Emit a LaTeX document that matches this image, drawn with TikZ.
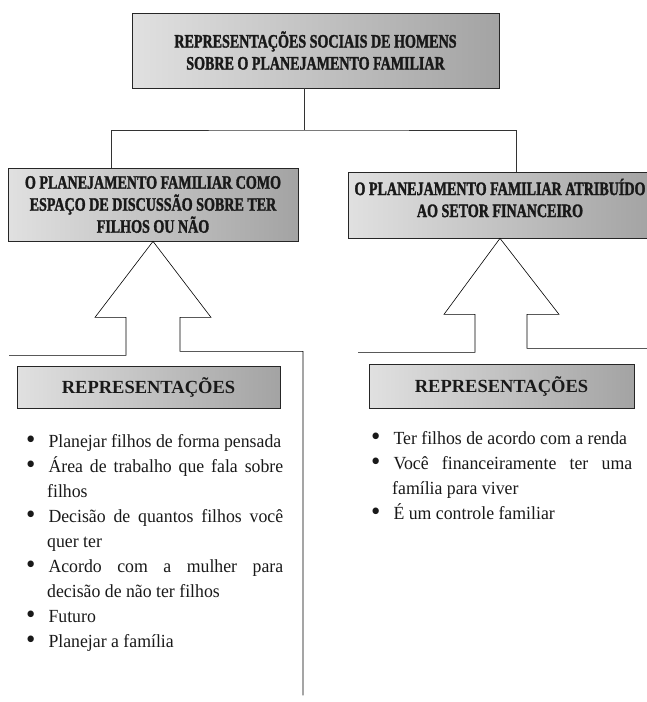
\documentclass[tikz,border=0pt]{standalone}
\usepackage{fontspec}
\usepackage{graphicx}
\setmainfont{Liberation Serif}
\newfontfamily\headfont{Liberation Serif Bold}[FakeStretch=0.74, FakeBold=1.6]
\newfontfamily\listfont{Liberation Serif}[FakeStretch=0.96]
\usetikzlibrary{shadows}

\newcommand\repdot{\raisebox{-0.08em}{\scalebox{1.5}{\textbullet}}}
\newenvironment{replist}{\hyphenpenalty=10000 \exhyphenpenalty=10000 \tolerance=10000
  \begin{list}{\repdot}{\setlength\leftmargin{21pt}\setlength\labelsep{13pt}%
  \setlength\labelwidth{8pt}\setlength\itemsep{0pt}\setlength\parsep{0pt}%
  \setlength\topsep{0pt}\setlength\partopsep{0pt}}}{\end{list}}

\tikzset{
  headbox/.style={draw=black!85, line width=0.7pt, left color=black!12, right color=black!36,
    drop shadow={shadow xshift=1.3pt, shadow yshift=-1.3pt, opacity=1, fill=black!80},
    align=center, inner sep=0pt, text=black!90,
    font=\headfont\fontsize{19}{22}\selectfont},
  headtext/.style={align=center, inner sep=0pt, text=black!90,
    font=\headfont\fontsize{19}{22}\selectfont},
  repbox/.style={headbox, font=\bfseries\fontsize{18.5}{22}\selectfont},
  conn/.style={draw=black!80, line width=0.9pt},
  arrowline/.style={draw=black, line width=0.6pt, line join=miter},
  replines/.style={anchor=north west, inner sep=0pt, align=justify, text=black!90,
    font=\listfont\fontsize{18.5}{25}\selectfont}
}

\begin{document}
\begin{tikzpicture}[x=1pt, y=-1pt]
  \useasboundingbox (0,0) rectangle (646,702);
  % Define nodes
  \node[headbox, minimum width=367pt, minimum height=75pt] (root) at (315.5,50.5)
    {REPRESENTAÇÕES SOCIAIS DE HOMENS\\SOBRE O PLANEJAMENTO FAMILIAR};
  \node[headbox, minimum width=290pt, minimum height=73pt] (famA) at (153,204.5)
    {O PLANEJAMENTO FAMILIAR COMO\\ESPAÇO DE DISCUSSÃO SOBRE TER\\FILHOS OU NÃO};
  \node[headbox, minimum width=304pt, minimum height=66pt] (famB) at (500,205) {};
  \node[headtext] (famBtext) at ([yshift=7pt]famB.center)
    {O PLANEJAMENTO FAMILIAR ATRIBUÍDO\\AO SETOR FINANCEIRO};
  \node[repbox, minimum width=263pt, minimum height=42pt] (repA) at (148.5,387) {REPRESENTAÇÕES};
  \node[repbox, minimum width=265pt, minimum height=44pt] (repB) at (501.5,386) {REPRESENTAÇÕES};
  \node[replines, text width=257pt] (listA) at (26,422) {\begin{replist}
    \item Planejar filhos de forma pensada
    \item Área de trabalho que fala sobre\linebreak filhos
    \item Decisão de quantos filhos você\linebreak quer ter
    \item Acordo com a mulher para\linebreak decisão de não ter filhos
    \item Futuro
    \item Planejar a família
  \end{replist}};
  \node[replines, text width=261pt] (listB) at (371,419) {\begin{replist}
    \item Ter filhos de acordo com a renda
    \item Você financeiramente ter uma\linebreak família para viver
    \item É um controle familiar
  \end{replist}};
  \coordinate (hub) at (304,130);
  \coordinate (tapA) at (111,0);
  \coordinate (tapB) at (516,0);
  % Connect nodes
  \draw[conn] (root.south -| hub) -- (hub);
  \draw[conn] (famA.north -| tapA) |- (hub) -| (famB.north -| tapB);
  \draw[arrowline] (famA.south) ++(-144,114) -- ++(117,0) -- ++(0,-38) -- ++(-31,0)
    -- (famA.south) -- ++(58,76) -- ++(-31,0) -- ++(0,34) -- ++(123,0) -- ++(0,344);
  \draw[arrowline] (famB.south) ++(-142,114) -- ++(117,0) -- ++(0,-38) -- ++(-31,0)
    -- (famB.south) -- ++(59,76) -- ++(-32,0) -- ++(0,34) -- ++(160,0);
\end{tikzpicture}
\end{document}
